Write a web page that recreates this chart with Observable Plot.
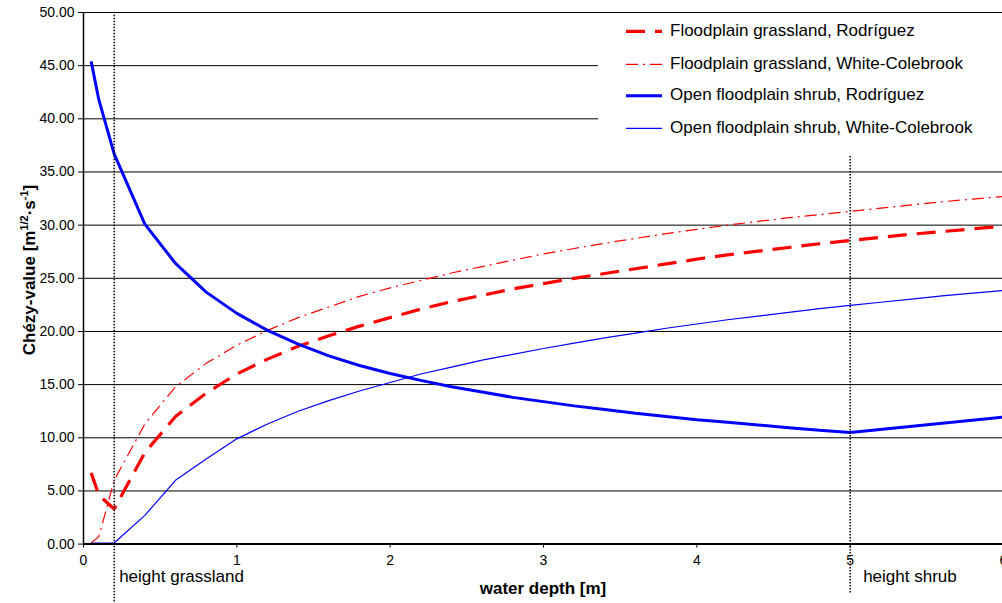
<!DOCTYPE html>
<html><head><meta charset="utf-8">
<script src="https://cdn.jsdelivr.net/npm/d3@7"></script>
<script src="https://cdn.jsdelivr.net/npm/@observablehq/plot@0.6"></script>
<style>
body{margin:0;background:#fff;}
#wrap{position:relative;width:1002px;height:603px;overflow:hidden;font-family:"Liberation Sans",Arial,sans-serif;background:#fff;}
#legend{position:absolute;left:598px;top:16px;width:404px;height:139px;background:#fff;}
</style></head><body><div id="wrap"></div>
<script>
// ---- data ----
const depth = [0.05,0.1,0.2,0.4,0.6,0.8,1.0,1.2,1.4,1.6,1.8,2.0,2.2,2.4,2.6,2.8,3.0,3.2,3.4,3.6,3.8,4.0,4.2,4.4,4.6,4.8,5.0,5.2,5.4,5.6,5.8,6.0];
const grassRod = [6.7,4.6,3.3,8.6,12.0,14.2,16.0,17.4,18.6,19.6,20.5,21.3,22.1,22.8,23.4,24.0,24.5,25.0,25.45,25.9,26.35,26.8,27.2,27.55,27.9,28.25,28.55,28.85,29.15,29.4,29.65,29.9];
const grassWC = [0.1,0.7,6.0,11.3,14.8,17.0,18.7,20.1,21.3,22.3,23.3,24.1,24.8,25.5,26.1,26.7,27.3,27.8,28.3,28.75,29.2,29.6,30.0,30.35,30.7,31.0,31.3,31.6,31.9,32.2,32.45,32.7];
const shrubWC = [0.1,0.1,0.1,2.7,6.0,8.0,9.9,11.3,12.5,13.5,14.4,15.2,16.0,16.65,17.3,17.85,18.4,18.9,19.4,19.85,20.3,20.7,21.1,21.45,21.8,22.15,22.45,22.75,23.05,23.35,23.6,23.85];
const depthShrubRod = [0.05,0.1,0.2,0.4,0.6,0.8,1.0,1.2,1.4,1.6,1.8,2.0,2.2,2.4,2.6,2.8,3.0,3.2,3.4,3.6,3.8,4.0,4.2,4.4,4.6,4.8,5.0,6.0];
const shrubRod = [45.4,41.8,36.7,30.1,26.4,23.7,21.7,20.1,18.8,17.7,16.8,16.05,15.4,14.8,14.3,13.8,13.4,13.0,12.65,12.3,12.0,11.7,11.45,11.2,10.95,10.7,10.5,11.95];
const seriesNames = ["Floodplain grassland, Rodríguez","Floodplain grassland, White-Colebrook","Open floodplain shrub, Rodríguez","Open floodplain shrub, White-Colebrook"];
const xTicks = [0,1,2,3,4,5,6];
const yTicks = [0,5,10,15,20,25,30,35,40,45,50];
const markers = [{x:0.2,label:"height grassland"},{x:5,label:"height shrub"}];
const xTitle = "water depth [m]";

// ---- styles ----
const styles = [
  {stroke:"#ff0000", strokeWidth:3.2, dash:"19,10"},
  {stroke:"#ff0000", strokeWidth:1.2, dash:"12,5,2,5"},
  {stroke:"#0000ff", strokeWidth:3, dash:null},
  {stroke:"#0000ff", strokeWidth:1.2, dash:null}
];
const toRows = (xs, ys) => xs.map((x,i)=>({x, y:ys[i]}));
const seriesData = [toRows(depth,grassRod), toRows(depth,grassWC), toRows(depthShrubRod,shrubRod), toRows(depth,shrubWC)];

const lineMarks = seriesData.map((d,i)=>Plot.line(d,{x:"x",y:"y",stroke:styles[i].stroke,strokeWidth:styles[i].strokeWidth,strokeDasharray:styles[i].dash||undefined,strokeLinejoin:"miter",strokeLinecap:"butt"}));

const plot = Plot.plot({
  width:1002, height:603,
  marginLeft:83, marginTop:12, marginBottom:59.4, marginRight:0,
  x:{domain:[0,6], range:[83,1003]},
  y:{domain:[0,50], range:[543.6,12]},
  style:{fontFamily:"'Liberation Sans', Arial, sans-serif", fontSize:"14px", color:"#000", background:"#fff"},
  marks:[
    Plot.gridY(yTicks,{stroke:"#000",strokeOpacity:1,strokeWidth:1}),
    Plot.axisY(yTicks,{tickSize:5,tickPadding:4,tickFormat:d3.format(".2f"),label:null,fontSize:14}),
    Plot.axisX(xTicks,{tickSize:4,tickPadding:7,tickFormat:d=>String(d),label:null,fontSize:14}),
    ...lineMarks,
    Plot.ruleX([0],{stroke:"#000",strokeWidth:1.5}),
    Plot.ruleY([0],{stroke:"#000",strokeWidth:2}),
    Plot.ruleX([markers[0]],{x:"x",y1:-5.7,y2:50,stroke:"#000",strokeWidth:1.5,strokeDasharray:"1.5,1.5"}),
    Plot.ruleX([markers[1]],{x:"x",y1:-4.6,y2:36.6,stroke:"#000",strokeWidth:1.5,strokeDasharray:"1.5,1.5"}),
    Plot.text([markers[0]],{x:"x",text:"label",frameAnchor:"bottom",dy:38,dx:5,textAnchor:"start",fontSize:17}),
    Plot.text([markers[1]],{x:"x",text:"label",frameAnchor:"bottom",dy:38,dx:13,textAnchor:"start",fontSize:17})
  ]
});
const wrap = document.getElementById("wrap");
wrap.appendChild(plot);
const svg = d3.select(plot);
// x title
const xs = plot.scale("x").range;
svg.append("text").attr("x",(xs[0]+xs[1])/2).attr("y",590).attr("text-anchor","middle").attr("dominant-baseline","middle")
  .attr("font-weight","bold").attr("font-size",17).text(xTitle);
// y title with superscripts
const yt = svg.append("text").attr("transform","translate(31,270) rotate(-90)").attr("text-anchor","middle")
  .attr("dominant-baseline","middle").attr("font-weight","bold").attr("font-size",17);
yt.append("tspan").text("Chézy-value [m");
yt.append("tspan").attr("dy",-6).attr("font-size",11).text("1/2");
yt.append("tspan").attr("dy",6).text("·s");
yt.append("tspan").attr("dy",-6).attr("font-size",11).text("-1");
yt.append("tspan").attr("dy",6).text("]");

// legend
const leg = d3.select(wrap).append("div").attr("id","legend");
const ls = leg.append("svg").attr("width",404).attr("height",139).style("display","block");
const rowY = [15.3,48.3,79.7,112.3];
seriesNames.forEach((n,i)=>{
  ls.append("line").attr("x1",28).attr("x2",64).attr("y1",rowY[i]).attr("y2",rowY[i])
    .attr("stroke",styles[i].stroke).attr("stroke-width",styles[i].strokeWidth)
    .attr("stroke-dasharray",styles[i].dash||null);
  ls.append("text").attr("x",72).attr("y",rowY[i]).attr("dominant-baseline","middle")
    .attr("font-size",17).attr("font-family","'Liberation Sans', Arial, sans-serif").text(n);
});
</script></body></html>
